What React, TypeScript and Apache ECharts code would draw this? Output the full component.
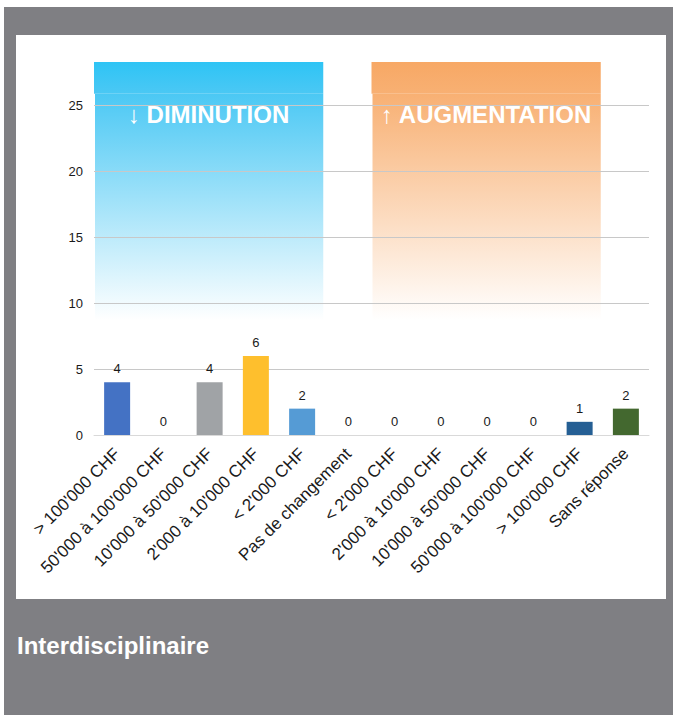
import React, { useEffect, useRef } from "react";
import * as echarts from "echarts";

const categories = [
  "> 100'000 CHF",
  "50'000 à 100'000 CHF",
  "10'000 à 50'000 CHF",
  "2'000 à 10'000 CHF",
  "< 2'000 CHF",
  "Pas de changement",
  "< 2'000 CHF",
  "2'000 à 10'000 CHF",
  "10'000 à 50'000 CHF",
  "50'000 à 100'000 CHF",
  "> 100'000 CHF",
  "Sans réponse",
];
const values = [4, 0, 4, 6, 2, 0, 0, 0, 0, 0, 1, 2];
const barColors = [
  "#4472C4", "#ED7D31", "#A0A3A6", "#FEBF2D", "#559BD5", "#70AD47",
  "#264478", "#9E480E", "#636363", "#997300", "#255F94", "#43682F",
];
const yTicks = [0, 5, 10, 15, 20, 25];

const bandLabels = ["↓ DIMINUTION", "↑ AUGMENTATION"];
const bandStart = [0, 6];
const bandEnd = [4, 10];
const bandTopColors = ["#2EC4F5", "#F7A865"];
const bandMidColors = ["#4BC8F4", "#F8B073"];

const chartTitle = "Interdisciplinaire";

const FONT = "Arial";
const BAND_TOP = 28.3;
const BAND_HEADER = 25.9;
const BAND_BOTTOM = 8.7;
const BAND_LABEL_Y = 24.3;

export default function App() {
  const ref = useRef<HTMLDivElement>(null);
  useEffect(() => {
    if (!ref.current) return;
    const chart = echarts.init(ref.current, null, { renderer: "svg" });
    const bandData = bandStart.map((s, i) => [s, bandEnd[i], i]);
    chart.setOption({
      animation: false,
      backgroundColor: "#7F7F83",
      textStyle: { fontFamily: FONT },
      title: {
        text: chartTitle,
        left: 17,
        top: 633,
        padding: 0,
        textStyle: { color: "#ffffff", fontSize: 24, fontWeight: "bold", fontFamily: FONT },
      },
      graphic: [
        {
          type: "rect",
          z: -100,
          silent: true,
          shape: { x: 0, y: 0, width: 4, height: 715 },
          style: { fill: "#ffffff" },
        },
        {
          type: "rect",
          z: -100,
          silent: true,
          shape: { x: 0, y: 0, width: 673, height: 7 },
          style: { fill: "#ffffff" },
        },
        {
          type: "rect",
          z: -100,
          silent: true,
          shape: { x: 16, y: 35, width: 650, height: 564 },
          style: { fill: "#ffffff" },
        },
      ],
      grid: { left: 94, right: 24, top: 66, bottom: 280, containLabel: false },
      xAxis: {
        type: "category",
        data: categories,
        z: 1,
        axisLine: { lineStyle: { color: "#D9D9D9" } },
        axisTick: { show: false },
        axisLabel: {
          rotate: 45,
          interval: 0,
          margin: 16,
          color: "#1a1a1a",
          fontSize: 17,
          fontFamily: FONT,
        },
      },
      yAxis: {
        type: "value",
        min: 0,
        max: 28,
        interval: 5,
        z: 1,
        axisLine: { show: false },
        axisTick: { show: false },
        axisLabel: {
          color: "#1a1a1a",
          fontSize: 13,
          margin: 11,
          fontFamily: FONT,
          showMaxLabel: false,
          formatter: (v: number) => (yTicks.indexOf(v) >= 0 ? String(v) : ""),
        },
        splitLine: { show: true, showMaxLine: false, lineStyle: { color: "#C8C8C8" } },
      },
      series: [
        {
          type: "custom",
          z: -1,
          silent: true,
          data: bandData,
          encode: { x: 0, y: 1 },
          clip: false,
          renderItem: (params: any, api: any) => {
            const s = api.value(0);
            const e = api.value(1);
            const idx = api.value(2);
            const half = api.size([1, 0])[0] / 2;
            const pTop = api.coord([s, BAND_TOP]);
            const pHead = api.coord([s, BAND_HEADER]);
            const pBot = api.coord([e, BAND_BOTTOM]);
            const x0 = pTop[0] - half;
            const x1 = pBot[0] + half - 2;
            return {
              type: "group",
              children: [
                {
                  type: "rect",
                  shape: { x: x0, y: pTop[1], width: x1 - x0, height: pHead[1] - pTop[1] },
                  style: {
                    fill: new echarts.graphic.LinearGradient(0, 0, 0, 1, [
                      { offset: 0, color: bandTopColors[idx] },
                      { offset: 1, color: bandMidColors[idx] },
                    ]),
                  },
                },
                {
                  type: "rect",
                  shape: { x: x0 + 1, y: pHead[1], width: x1 - x0 - 1, height: pBot[1] - pHead[1] },
                  style: {
                    fill: new echarts.graphic.LinearGradient(0, 0, 0, 1, [
                      { offset: 0, color: bandMidColors[idx] },
                      { offset: 1, color: "#ffffff" },
                    ]),
                  },
                },
              ],
            };
          },
        },
        {
          type: "custom",
          z: 10,
          silent: true,
          data: bandData,
          encode: { x: 0, y: 1 },
          clip: false,
          renderItem: (params: any, api: any) => {
            const s = api.value(0);
            const e = api.value(1);
            const idx = api.value(2);
            const p0 = api.coord([s, BAND_LABEL_Y]);
            const p1 = api.coord([e, BAND_LABEL_Y]);
            return {
              type: "text",
              style: {
                text: bandLabels[idx],
                x: (p0[0] + p1[0]) / 2 - 1,
                y: p0[1],
                align: "center",
                verticalAlign: "middle",
                fill: "#ffffff",
                fontSize: 24,
                fontWeight: "bold",
                fontFamily: FONT,
              },
            };
          },
        },
        {
          type: "bar",
          z: 5,
          barWidth: 26,
          data: values.map((v, i) => ({ value: v, itemStyle: { color: barColors[i] } })),
          label: {
            show: true,
            position: "top",
            distance: 7,
            color: "#1a1a1a",
            fontSize: 13,
            fontFamily: FONT,
          },
        },
      ],
    });
    return () => chart.dispose();
  }, []);
  return (
    <div
      ref={ref}
      style={{ position: "absolute", left: 0, top: 0, width: 673, height: 715 }}
    />
  );
}
